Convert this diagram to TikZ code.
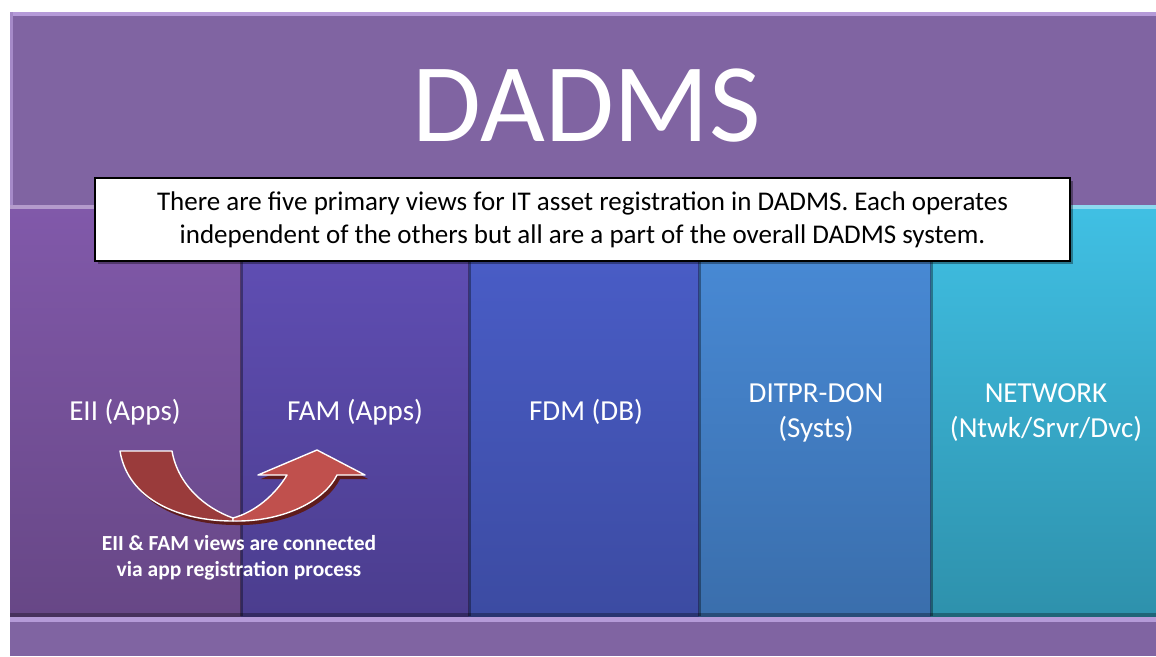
\documentclass[tikz,border=0pt]{standalone}
\usepackage{fontspec}
\setmainfont{Carlito}
\usetikzlibrary{calc}
\definecolor{topP}{HTML}{8064A2}
\definecolor{topL}{HTML}{B59AD8}
\definecolor{c1t}{HTML}{8159AA}
\definecolor{c1b}{HTML}{674786}
\definecolor{c2t}{HTML}{6250B8}
\definecolor{c2b}{HTML}{4B3D8E}
\definecolor{c3t}{HTML}{4B5FCB}
\definecolor{c3b}{HTML}{3C4BA2}
\definecolor{c4t}{HTML}{4A8DDA}
\definecolor{c4b}{HTML}{3A6EAC}
\definecolor{c5t}{HTML}{40C0E4}
\definecolor{c5b}{HTML}{2E91AC}
\definecolor{arrL}{HTML}{9A3B3B}
\definecolor{arrR}{HTML}{C0504D}
\definecolor{arrS}{HTML}{5E1C1C}
\tikzset{
  lbl/.style={text=white, font=\fontsize{29}{35}\selectfont, align=center},
  captxt/.style={text=white, font=\bfseries\fontsize{21.5}{26}\selectfont, align=center},
  arrpart/.style={white, line width=1.4pt, line join=round},
}
\begin{document}
\begin{tikzpicture}[x=1pt,y=-1pt]
\useasboundingbox (0,0) rectangle (1156,656);
\fill[white] (0,0) rectangle (1156,656);
% top box
\fill[topP] (10,12) rectangle (1156,206);
\fill[topL] (10,12) rectangle (1156,16);
\fill[topL!70!topP] (10,12) rectangle (13,206);
\node (title) at (587,106) {\fontsize{112}{114}\selectfont\color{white}DADMS};
% columns
\shade[top color=c1t,bottom color=c1b] (10,205) rectangle (241,616);
\shade[top color=c2t,bottom color=c2b] (241,205) rectangle (469,616);
\shade[top color=c3t,bottom color=c3b] (469,205) rectangle (699,616);
\shade[top color=c4t,bottom color=c4b] (699,205) rectangle (931,616);
\shade[top color=c5t,bottom color=c5b] (931,205) rectangle (1156,616);
\fill[c1t!60!white] (10,205) rectangle (241,209);
\fill[c5t!60!white] (931,205) rectangle (1156,209);
\foreach \x in {241,469,699,931}{
  \fill[black,opacity=0.35] (\x-1.5,205) rectangle (\x+1.5,616);
}
\fill[black,opacity=0.3] (10,613) rectangle (1156,617);
% column labels
\node[lbl] (eii) at (125,412) {EII (Apps)};
\node[lbl] (fam) at (355,412) {FAM (Apps)};
\node[lbl] (fdm) at (586,412) {FDM (DB)};
\node[lbl] (dit) at (816,413) {DITPR-DON\\(Systs)};
\node[lbl] (net) at (1046,413) {NETWORK\\(Ntwk/Srvr/Dvc)};
% bottom bar
\fill[topP] (10,617) rectangle (1156,656);
\fill[topL] (10,617) rectangle (1156,622);
% callout
\fill[black,opacity=0.35] (98,181) rectangle (1073,264);
\node[draw=black, line width=1.6pt, fill=white, minimum width=975, minimum height=83, inner sep=0pt,
  font=\fontsize{27}{33}\selectfont, align=center] (callout) at (582.5,219.5)
  {There are five primary views for IT asset registration in DADMS. Each operates\\independent of the others but all are a part of the overall DADMS system.};
% curved arrow
\begin{scope}[shift={(3,4)}]
\fill[arrS] (120,451) .. controls (128,500) and (180,521) .. (233,521)
  .. controls (285,522) and (325,500) .. (337,475) -- (365,475) -- (317,450) -- (258,475) -- (287,475)
  .. controls (275,495) and (255,512) .. (233,518) -- cycle;
\end{scope}
\draw[arrpart, fill=arrL] (120,451)
  .. controls (128,500) and (180,521) .. (233,521) -- (233,518)
  .. controls (205,508) and (178,485) .. (172,451) -- cycle;
\draw[arrpart, fill=arrR] (233,518)
  .. controls (255,512) and (275,495) .. (287,475) -- (258,475) -- (317,450) -- (365,475) -- (337,475)
  .. controls (325,500) and (285,522) .. (233,521) -- cycle;
\node[captxt] (caption) at (239,558) {EII \& FAM views are connected\\via app registration process};
\end{tikzpicture}
\end{document}
